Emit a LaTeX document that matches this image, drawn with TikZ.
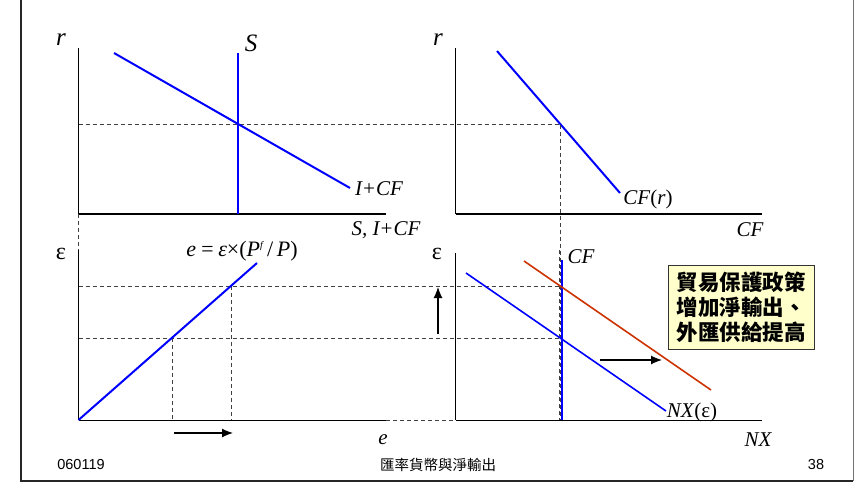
\documentclass[tikz,border=0pt]{standalone}
\usepackage{fontspec}
\setmainfont{Liberation Serif}
\newfontfamily\cjkfont{Noto Sans CJK TC}
\newfontfamily\footfont{Liberation Sans}
\usetikzlibrary{arrows.meta}
\definecolor{curvecolor}{RGB}{0,0,255}
\definecolor{shiftcolor}{RGB}{204,51,0}
\definecolor{notecolor}{RGB}{255,255,204}

\begin{document}
\begin{tikzpicture}[
    x=1pt, y=-1pt,
    axis/.style={black, line width=0.8pt},
    thickaxis/.style={black, line width=2pt},
    curve/.style={curvecolor, line width=2pt},
    shifted/.style={shiftcolor, line width=1.6pt},
    guide/.style={dash pattern=on 4pt off 3pt, line width=0.8pt, black!75},
    arrow/.style={-{Latex[length=11pt,width=9pt]}, line width=1.2pt},
    lbl/.style={font=\fontsize{21}{24}\selectfont\itshape, inner sep=0pt},
    biglbl/.style={font=\fontsize{25}{28}\selectfont\itshape, inner sep=0pt},
    footer/.style={font=\fontsize{14.5}{17}\selectfont, inner sep=0pt},
    notebox/.style={rectangle, draw=black!80, line width=1pt, fill=notecolor, minimum width=146pt, minimum height=84pt, align=center, inner sep=2pt, font=\fontsize{21.5}{25}\selectfont\cjkfont\bfseries}
]
\useasboundingbox (0,0) rectangle (854,483);

% Slide frame
\draw[line width=2pt, black!85] (21,0) -- (21,481) -- (853,481);
\draw[line width=1pt, black!55] (853,0) -- (853,481);

% Guide lines
\draw[guide] (78.5,124.7) -- (560,124.7);
\draw[guide] (78.5,213.5) -- (78.5,250);
\draw[guide] (386,420) -- (455.5,420);
\draw[guide] (78.5,286) -- (560,286);
\draw[guide] (78.5,338) -- (560,338);
\draw[guide] (172,338) -- (172,420);
\draw[guide] (231.5,286) -- (231.5,420);

% Saving and investment
\coordinate (siO) at (78.5,213.5);
\draw[axis] (78.5,48) -- (siO);
\draw[thickaxis] (siO) -- (386,213.5);
\draw[curve] (114,53) -- (350,188);
\draw[curve, line width=2.8pt] (238,53) -- (238,213.5);
\node[biglbl] (siR) at (61,40) {r};
\node[biglbl] (siS) at (251,43) {S};
\node[lbl] (siICF) at (379,189) {I+CF};
\node[lbl] (siAxis) at (386,230) {S, I+CF};

% Capital flow
\coordinate (cfO) at (455.5,213.5);
\draw[axis] (455.5,48) -- (cfO);
\draw[thickaxis] (cfO) -- (762,213.5);
\draw[curve] (497,51) -- (620,193);
\draw[guide] (560,124.7) -- (560,420);
\node[biglbl] (cfR) at (438,40) {r};
\node[lbl] (cfCurve) at (648,199) {CF\textup{(}r\textup{)}};
\node[lbl] (cfAxis) at (750,230) {CF};

% Nominal and real exchange rate
\coordinate (erO) at (78.5,420);
\draw[axis] (78.5,250) -- (erO);
\draw[axis] (erO) -- (386,420);
\draw[curve] (erO) -- (257,263);
\node[biglbl, font=\fontsize{24}{28}\selectfont] (erEps) at (61,254) {ε};
\node[lbl, font=\fontsize{22}{26}\selectfont\itshape] (erEq) at (242,251) {e\,=\,ε\textup{×(}P\textsuperscript{\fontsize{10}{10}\selectfont f}\,\textup{/}\,P\textup{)}};
\node[lbl] (erAxis) at (383,440) {e};
\coordinate (erFrom) at (174,433);
\coordinate (erTo) at (233,433);
\draw[arrow] (erFrom) -- (erTo);

% Net exports
\coordinate (nxO) at (455.5,420);
\draw[axis] (455.5,253) -- (nxO);
\draw[axis] (nxO) -- (762,420);
\draw[curve] (561.5,260) -- (561.5,420);
\draw[guide] (559.5,250) -- (559.5,420);
\draw[curve, line width=1.6pt] (466,273) -- (666,411);
\draw[shifted] (524,261) -- (711,390);
\node[biglbl, font=\fontsize{24}{28}\selectfont] (nxEps) at (437,254) {ε};
\node[lbl] (nxCF) at (581,257) {CF};
\node[lbl] (nxCurve) at (692,412) {NX\textup{(ε)}};
\node[lbl] (nxAxis) at (758,440) {NX};
\coordinate (upFrom) at (438,334);
\coordinate (upTo) at (438,287);
\draw[arrow] (upFrom) -- (upTo);
\coordinate (shiftFrom) at (600,360);
\coordinate (shiftTo) at (662,360);
\draw[arrow] (shiftFrom) -- (shiftTo);
\node[notebox] (policy) at (741,307) {貿易保護政策\\增加淨輸出、\\外匯供給提高};

% Footer
\node[footer, font=\fontsize{14.5}{17}\selectfont\footfont] (date) at (81,464) {060119};
\node[footer, font=\fontsize{14.5}{17}\selectfont\cjkfont] (title) at (438,465) {匯率貨幣與淨輸出};
\node[footer, font=\fontsize{14.5}{17}\selectfont\footfont] (page) at (816,464) {38};

\end{tikzpicture}
\end{document}
